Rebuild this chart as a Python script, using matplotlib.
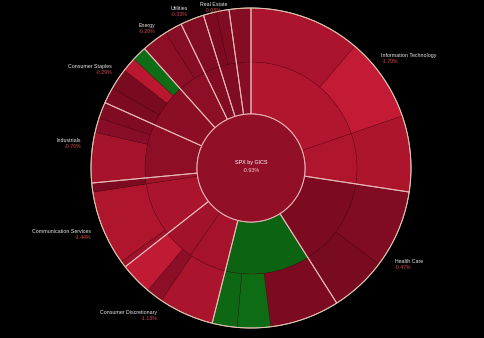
import numpy as np
import matplotlib
matplotlib.use('Agg')
import matplotlib.pyplot as plt
from matplotlib.patches import Circle

# ============================================================
# DATA
# ============================================================
sectors = ['Information Technology', 'Health Care', 'Financials',
           'Consumer Discretionary', 'Communication Services', 'Industrials',
           'Consumer Staples', 'Energy', 'Utilities', 'Real Estate', 'Materials']
sector_weight = [27.4, 13.6, 12.9, 10.5, 9.1, 8.2, 6.7, 4.4, 2.4, 2.6, 2.2]
sector_change = [-1.70, -0.47, 0.35, -1.13, -1.44, -0.70, -0.29, -0.20, -0.33, -0.08, -0.55]
hidden_labels = ['Financials', 'Materials']
total_change = -0.93

# inner ring (industries), fractions of each sector
industry_frac = [[0.72, 0.28], [1.0], [1.0], [0.55, 0.45], [0.9, 0.1], [1.0],
                 [1.0], [1.0], [1.0], [1.0], [1.0]]
industry_change = [[-1.7, -1.65], [-0.45], [0.3], [-1.35, -1.3], [-1.5, -1.2], [-0.85],
                   [-0.75], [-0.8], [-0.55], [-0.5], [-0.65]]

# outer ring (sub-industries), fractions of each sector
sub_frac = [[0.41, 0.31, 0.28], [0.58, 0.42], [0.545, 0.26, 0.195],
            [0.53, 0.16, 0.31], [0.07, 0.83, 0.10], [0.62, 0.18, 0.20],
            [0.244, 0.318, 0.219, 0.219], [0.6, 0.4], [1.0], [0.5, 0.5], [1.0]]
sub_change = [[-1.5, -2.3, -1.6], [-0.5, -0.38], [-0.45, 0.55, 0.4],
              [-1.5, -0.8, -2.2], [-1.2, -1.65, -0.4], [-1.4, -0.7, -0.5],
              [-0.45, -0.35, -2.0, 0.6], [-0.8, -0.7], [-0.55], [-0.45, -0.5], [-0.6]]


def change_color(c):
    if c > 0:
        pts = [0.0, 1.0]
        cols = np.array([[10, 88, 16], [18, 125, 24]]) / 255
    else:
        pts = [-2.5, -1.8, -1.3, -0.8, -0.4, 0.0]
        cols = np.array([[200, 28, 55], [181, 23, 47], [162, 19, 43],
                         [141, 14, 39], [122, 11, 33], [106, 9, 28]]) / 255
    return tuple(np.interp(c, pts, cols[:, k]) for k in range(3))


# ============================================================
# FIGURE
# ============================================================
W, H = 485, 338
cx, cy = 251, 338 - 168
r_out, r_mid, r_in = 160, 106, 54
thin_edge = (0.33, 0.02, 0.08, 0.45)

fig = plt.figure(figsize=(W / 100, H / 100), dpi=100, facecolor='black')
ax = fig.add_axes([0, 0, 1, 1])
ax.set_facecolor('black')

ring1_w = [w * f for w, fr in zip(sector_weight, industry_frac) for f in fr]
ring1_c = [change_color(c) for ch in industry_change for c in ch]
ring2_w = [w * f for w, fr in zip(sector_weight, sub_frac) for f in fr]
ring2_c = [change_color(c) for ch in sub_change for c in ch]

ax.pie(ring2_w, radius=r_out, center=(cx, cy), startangle=90, counterclock=False,
       colors=ring2_c, wedgeprops=dict(width=r_out - r_mid, edgecolor=thin_edge,
                                       linewidth=0.3))
ax.pie(ring1_w, radius=r_mid, center=(cx, cy), startangle=90, counterclock=False,
       colors=ring1_c, wedgeprops=dict(width=r_mid - r_in, edgecolor=thin_edge,
                                       linewidth=0.3))
# sector outlines
ax.pie(sector_weight, radius=r_out, center=(cx, cy), startangle=90, counterclock=False,
       wedgeprops=dict(width=r_out - r_in, fill=False, edgecolor='#eab9b9',
                       linewidth=0.7))
ax.add_patch(Circle((cx, cy), r_in, facecolor=change_color(total_change),
                    edgecolor='#eab9b9', linewidth=0.7, zorder=3))
ax.add_patch(Circle((cx, cy), r_out, fill=False, edgecolor='#d8c9a8',
                    linewidth=0.6, zorder=3))

ax.text(cx, cy + 5, 'SPX by GICS', color='white', fontsize=3.9,
        family='Liberation Sans', ha='center', va='center', zorder=4)
ax.text(cx, cy - 3, f'{total_change:.2f}%', color='#f2cccc', fontsize=3.9,
        family='Liberation Sans', ha='center', va='center', zorder=4)

# sector labels
cum = np.cumsum([0] + sector_weight)
for i, name in enumerate(sectors):
    if name in hidden_labels:
        continue
    mid = np.deg2rad((cum[i] + cum[i + 1]) / 2 / 100 * 360)
    lx = cx + 172 * np.sin(mid)
    ly = min(cy + 172 * np.cos(mid), H - 4)
    if abs(np.sin(mid)) < 0.3:
        ha = 'center'
    elif np.sin(mid) < 0:
        ha = 'right'
    else:
        ha = 'left'
    ax.text(lx, ly, name, color='#e8e8e8', fontsize=3.8,
            family='Liberation Sans', ha=ha, va='center')
    ax.text(lx, ly - 6, f'{sector_change[i]:.2f}%', color='#d9474f', fontsize=3.8,
            family='Liberation Sans', ha=ha, va='center')

ax.set_xlim(0, W)
ax.set_ylim(0, H)
ax.set_aspect('equal')
ax.axis('off')
plt.savefig('out.png', dpi=100, facecolor='black')
